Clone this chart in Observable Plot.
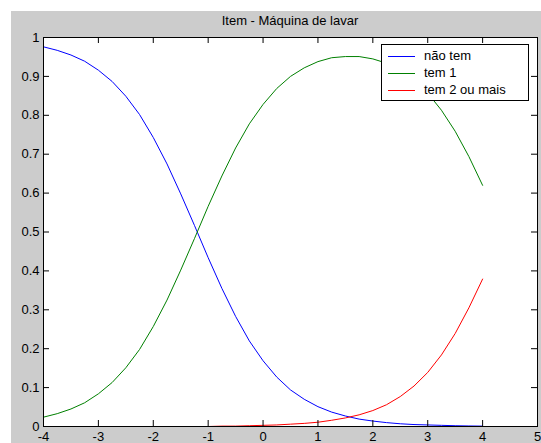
<!DOCTYPE html>
<html>
<head>
<meta charset="utf-8">
<script src="https://cdn.jsdelivr.net/npm/d3@7"></script>
<script src="https://cdn.jsdelivr.net/npm/@observablehq/plot@0.6"></script>
<style>
  html, body { margin: 0; padding: 0; background: white; }
  #fig { position: relative; width: 541px; height: 443px; background: white; overflow: hidden; font-family: "Liberation Sans", Arial, sans-serif; }
  #bg { position: absolute; left: 11px; top: 11px; right: 0; bottom: 0; background: #cccccc; }
  #title { position: absolute; left: 43px; width: 494px; top: 12px; text-align: center; font-size: 13px; line-height: 18px; color: #000; }
  #chart { position: absolute; left: 0; top: 0; }
  #legend { position: absolute; left: 381px; top: 44px; width: 148px; height: 57px; background: white; border: 1px solid black; box-sizing: border-box; font-size: 13px; }
  .li { position: absolute; left: 6px; height: 17px; line-height: 17px; white-space: nowrap; }
  .sw { display: inline-block; width: 27px; height: 0; border-top: 1px solid; vertical-align: middle; margin-right: 9px; }
</style>
</head>
<body>
<div id="fig">
  <div id="bg"></div>
  <div id="title"></div>
  <div id="chart"></div>
  <div id="legend"></div>
</div>
<script>
const title = "Item - Máquina de lavar";
const seriesNames = ["não tem", "tem 1", "tem 2 ou mais"];
const seriesColors = ["#0000ff", "#008000", "#ff0000"];

const theta  = [-4, -3.75, -3.5, -3.25, -3, -2.75, -2.5, -2.25, -2, -1.75, -1.5, -1.25, -1, -0.75, -0.5, -0.25, 0, 0.25, 0.5, 0.75, 1, 1.25, 1.5, 1.75, 2, 2.25, 2.5, 2.75, 3, 3.25, 3.5, 3.75, 4];
const naoTem = [0.976, 0.967, 0.955, 0.939, 0.916, 0.887, 0.849, 0.802, 0.743, 0.675, 0.598, 0.517, 0.434, 0.355, 0.283, 0.220, 0.169, 0.127, 0.094, 0.070, 0.051, 0.037, 0.027, 0.019, 0.014, 0.010, 0.007, 0.005, 0.004, 0.003, 0.002, 0.0014, 0.001];
const tem1   = [0.024, 0.033, 0.045, 0.061, 0.084, 0.113, 0.151, 0.198, 0.257, 0.325, 0.402, 0.483, 0.566, 0.644, 0.716, 0.778, 0.828, 0.869, 0.900, 0.922, 0.938, 0.948, 0.951, 0.951, 0.945, 0.934, 0.916, 0.891, 0.857, 0.813, 0.759, 0.694, 0.620];
const tem2   = [0.000, 0.000, 0.000, 0.000, 0.000, 0.000, 0.000, 0.000, 0.000, 0.000, 0.000, 0.000, 0.000, 0.001, 0.001, 0.002, 0.003, 0.004, 0.006, 0.008, 0.011, 0.016, 0.022, 0.030, 0.041, 0.056, 0.077, 0.104, 0.139, 0.184, 0.239, 0.305, 0.379];

const xTicks = [-4, -3, -2, -1, 0, 1, 2, 3, 4, 5];
const yTicks = [0, 0.1, 0.2, 0.3, 0.4, 0.5, 0.6, 0.7, 0.8, 0.9, 1];

const allSeries = [naoTem, tem1, tem2];
const rows = [];
allSeries.forEach((vals, s) => {
  theta.forEach((t, i) => rows.push({theta: t, p: vals[i], serie: seriesNames[s]}));
});

document.getElementById("title").textContent = title;

const W = 541, H = 443, mL = 43, mR = 4, mT = 37, mB = 17;
const plotW = W - mL - mR, plotH = H - mT - mB, tick = 6;

const fmtY = d3.format("~g");
const fmtX = d => String(d);

const plot = Plot.plot({
  width: W,
  height: H,
  marginLeft: mL,
  marginRight: mR,
  marginTop: mT,
  marginBottom: mB,
  style: { background: "transparent", fontSize: "13px", fontFamily: "Liberation Sans, Arial, sans-serif", color: "black", overflow: "visible" },
  x: { domain: [-4, 5], label: null },
  y: { domain: [0, 1], label: null },
  color: { domain: seriesNames, range: seriesColors },
  marks: [
    Plot.frame({ fill: "white", stroke: "none" }),
    Plot.line(rows, { x: "theta", y: "p", z: "serie", stroke: "serie", strokeWidth: 1 }),
    Plot.tickX(xTicks, { x: d => d, stroke: "black", insetTop: plotH - tick }),
    Plot.tickX(xTicks, { x: d => d, stroke: "black", insetBottom: plotH - tick }),
    Plot.tickY(yTicks, { y: d => d, stroke: "black", insetRight: plotW - tick }),
    Plot.tickY(yTicks, { y: d => d, stroke: "black", insetLeft: plotW - tick }),
    Plot.frame({ stroke: "black", strokeWidth: 1 }),
    Plot.axisX({ anchor: "bottom", ticks: xTicks, tickSize: 0, tickPadding: 5, tickFormat: fmtX, label: null }),
    Plot.axisY({ anchor: "left", ticks: yTicks, tickSize: 0, tickPadding: 4, tickFormat: fmtY, label: null })
  ]
});
document.getElementById("chart").appendChild(plot);

const leg = document.getElementById("legend");
seriesNames.forEach((name, i) => {
  const d = document.createElement("div");
  d.className = "li";
  d.style.top = (2 + i * 17) + "px";
  const sw = document.createElement("span");
  sw.className = "sw";
  sw.style.borderTopColor = plot.scale("color").apply(name);
  d.appendChild(sw);
  d.appendChild(document.createTextNode(name));
  leg.appendChild(d);
});
</script>
</body>
</html>
